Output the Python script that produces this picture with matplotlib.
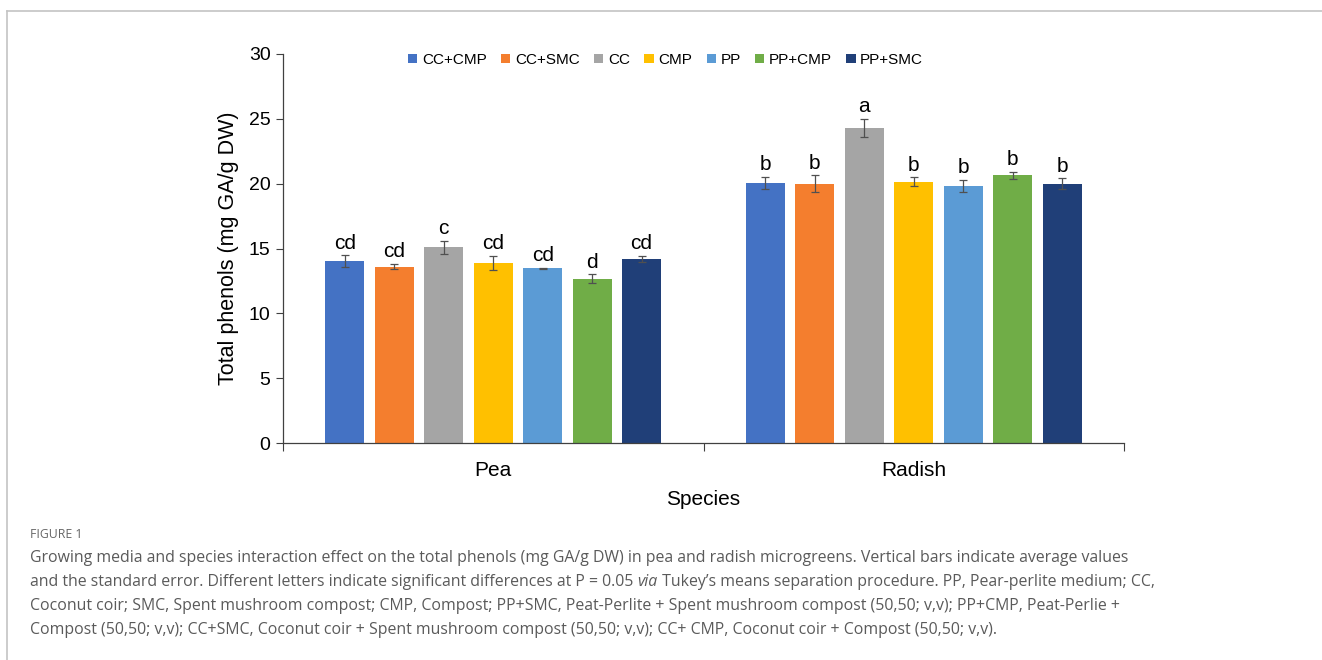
import matplotlib
matplotlib.use("Agg")
import matplotlib.pyplot as plt
import numpy as np
from matplotlib.lines import Line2D
from matplotlib.patches import Patch

species = ["Pea", "Radish"]
media = ["CC+CMP", "CC+SMC", "CC", "CMP", "PP", "PP+CMP", "PP+SMC"]
colors = ["#4472C4", "#F47E2E", "#A5A5A5", "#FFC000", "#5B9BD5", "#70AD47", "#203F78"]
pea_vals = [14.03, 13.60, 15.09, 13.90, 13.47, 12.67, 14.21]
pea_err = [0.45, 0.20, 0.50, 0.55, 0.03, 0.33, 0.22]
radish_vals = [20.07, 19.99, 24.29, 20.15, 19.82, 20.66, 19.99]
radish_err = [0.47, 0.65, 0.72, 0.35, 0.50, 0.27, 0.42]
pea_letters = ["cd", "cd", "c", "cd", "cd", "d", "cd"]
radish_letters = ["b", "b", "a", "b", "b", "b", "b"]

caption_title = "FIGURE 1"
caption_lines = [
    [("Growing media and species interaction effect on the total phenols (mg GA/g DW) in pea and radish microgreens. Vertical bars indicate average values", "normal")],
    [("and the standard error. Different letters indicate significant differences at P = 0.05 ", "normal"),
     ("via", "italic"),
     (" Tukey\u2019s means separation procedure. PP, Pear-perlite medium; CC,", "normal")],
    [("Coconut coir; SMC, Spent mushroom compost; CMP, Compost; PP+SMC, Peat-Perlite + Spent mushroom compost (50,50; v,v); PP+CMP, Peat-Perlie +", "normal")],
    [("Compost (50,50; v,v); CC+SMC, Coconut coir + Spent mushroom compost (50,50; v,v); CC+ CMP, Coconut coir + Compost (50,50; v,v).", "normal")],
]

W, H = 1322, 660
fig = plt.figure(figsize=(W / 100, H / 100), dpi=100)
plt.rcParams["font.family"] = ["Liberation Sans", "DejaVu Sans"]

ax = fig.add_axes([283 / W, 1 - 443 / H, (1124 - 283) / W, (443 - 54) / H])

slot = 0.1176
bw = 0.0926
vals = [pea_vals, radish_vals]
errs = [pea_err, radish_err]
letters = [pea_letters, radish_letters]
n = len(media)
for gi in range(len(species)):
    center = gi + 0.5
    for i in range(n):
        x = center + (i - (n - 1) / 2) * slot
        v = vals[gi][i]
        e = errs[gi][i]
        ax.bar(x, v, width=bw, color=colors[i], edgecolor="none", zorder=2)
        ax.errorbar(x, v, yerr=e, fmt="none", ecolor="#505050", elinewidth=0.9,
                    capsize=3, capthick=0.9, zorder=3)
        ax.text(x, v + e + 0.2, letters[gi][i], ha="center", va="bottom",
                fontsize=15, color="#000000")

ax.set_xlim(0, 2)
ax.set_ylim(0, 30)
ax.set_yticks(np.arange(0, 31, 5))
ax.tick_params(axis="y", labelsize=14, length=5, width=0.8, color="#404040", pad=4)
ax.set_xticks([0, 1, 2])
ax.set_xticklabels([])
ax.tick_params(axis="x", length=6, width=0.8, color="#404040")
ax.set_xticks([0.5, 1.5], minor=True)
ax.set_xticklabels(species, minor=True, fontsize=15)
ax.tick_params(axis="x", which="minor", length=0, pad=13)
for s in ["top", "right"]:
    ax.spines[s].set_visible(False)
for s in ["left", "bottom"]:
    ax.spines[s].set_color("#404040")
    ax.spines[s].set_linewidth(0.9)
ax.set_ylabel("Total phenols (mg GA/g DW)", fontsize=15.5, labelpad=7)
ax.set_xlabel("Species", fontsize=15, labelpad=7)

handles = [Patch(facecolor=c, edgecolor="none") for c in colors]
ax.legend(handles, media, ncol=7, loc="upper center", bbox_to_anchor=(0.455, 1.03),
          frameon=False, fontsize=11, handlelength=0.6, handleheight=0.6,
          handletextpad=0.3, columnspacing=0.95, borderaxespad=0.3)

# border lines
fig.add_artist(Line2D([7 / W, 1.0], [1 - 11 / H, 1 - 11 / H], color="#c4c4c4", lw=1.2))
fig.add_artist(Line2D([7 / W, 7 / W], [0, 1 - 11 / H], color="#c4c4c4", lw=1.2))

# caption
cap_font = ["Open Sans", "DejaVu Sans"]
cap_color = "#5a5a5a"
fig.text(30 / W, 1 - 535 / H, caption_title, fontsize=8.8, color="#666666",
         family=cap_font, va="center", ha="left")

fig.canvas.draw()
renderer = fig.canvas.get_renderer()
probe = fig.text(0, 0, caption_lines[0][0][0], fontsize=10, family=cap_font)
w10 = probe.get_window_extent(renderer).width
probe.remove()
cap_size = 10 * 1105 / w10

ys = [558, 582, 606, 630]
for line, yy in zip(caption_lines, ys):
    xpix = 30
    for txt, style in line:
        t = fig.text(xpix / W, 1 - yy / H, txt, fontsize=cap_size, color=cap_color,
                     family=cap_font, style=style, va="center", ha="left")
        xpix += t.get_window_extent(renderer).width

fig.savefig("out.png", dpi=100)
